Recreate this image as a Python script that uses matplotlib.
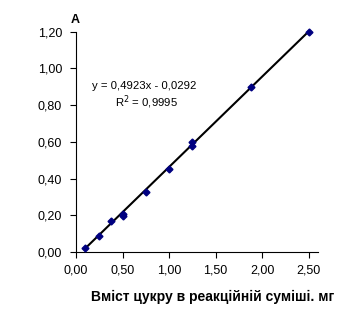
import numpy as np
import matplotlib.pyplot as plt

plt.rcParams['font.family'] = ['Liberation Sans', 'DejaVu Sans']

# sugar amount, mg / absorbance
sugar_mg = [0.10, 0.25, 0.375, 0.50, 0.50, 0.75, 1.00, 1.25, 1.25, 1.875, 2.50]
absorb = [0.024, 0.089, 0.169, 0.206, 0.196, 0.327, 0.453, 0.598, 0.578, 0.897, 1.197]

slope = 0.4923
intercept = -0.0292
eq_text = "y = 0,4923x - 0,0292"
r2_text = "R$^2$ = 0,9995"

x_ticks = [0.0, 0.5, 1.0, 1.5, 2.0, 2.5]
y_ticks = [0.0, 0.2, 0.4, 0.6, 0.8, 1.0, 1.2]


def comma(v):
    return f"{v:.2f}".replace(".", ",")


fig = plt.figure(figsize=(3.48, 3.26), dpi=100)
ax = fig.add_axes([76 / 348, 1 - 252 / 326, 242 / 348, 220.3 / 326])

# trend line
xs = np.array([min(sugar_mg), max(sugar_mg)])
ax.plot(xs, slope * xs + intercept, color="black", lw=1.5, zorder=2,
        clip_on=False)
ax.plot(sugar_mg, absorb, linestyle="none", marker="D", markersize=3.5,
        color="#000080", zorder=3, clip_on=False)

ax.set_xlim(0, 2.6)
ax.set_ylim(0, 1.2)
ax.set_xticks(x_ticks)
ax.set_yticks(y_ticks)
ax.set_xticklabels([comma(v) for v in x_ticks], fontsize=9)
ax.set_yticklabels([comma(v) for v in y_ticks], fontsize=9)
ax.tick_params(direction="out", length=4, width=0.8)
ax.tick_params(axis="x", pad=5)
ax.tick_params(axis="y", pad=6)
for s in ["top", "right"]:
    ax.spines[s].set_visible(False)
for s in ["left", "bottom"]:
    ax.spines[s].set_linewidth(0.8)

fig.text(144 / 348, 1 - 86 / 326, eq_text, fontsize=8.2, ha="center", va="center")
fig.text(146 / 348, 1 - 102 / 326, r2_text, fontsize=8.2, ha="center", va="center")

fig.text(75 / 348, 1 - 20 / 326, "А", fontsize=9, fontweight="bold",
         ha="center", va="center")
fig.text(213 / 348, 1 - 297 / 326, "Вміст цукру в реакційній суміші. мг",
         fontsize=10, fontweight="bold", ha="center", va="center")

fig.savefig("out.png", dpi=100)
